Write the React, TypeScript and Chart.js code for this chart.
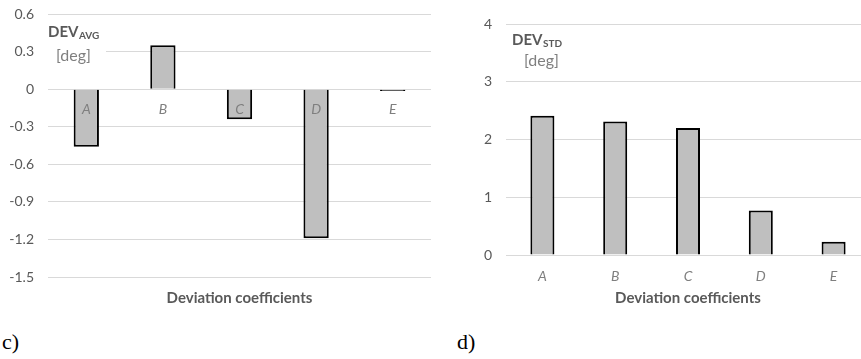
import { useEffect, useRef } from "react";
import { Chart, registerables } from "chart.js";

Chart.register(...registerables);

const categories = ["A", "B", "C", "D", "E"];
const devAvg = [-0.46, 0.35, -0.24, -1.19, -0.015];
const devStd = [2.41, 2.31, 2.2, 0.77, 0.23];
const avgTicks = [-1.5, -1.2, -0.9, -0.6, -0.3, 0, 0.3, 0.6];
const stdTicks = [0, 1, 2, 3, 4];
const axisTitle = "Deviation coefficients";
const panelLabels = ["c)", "d)"];
const titleMain = "DEV";
const titleSubs = ["AVG", "STD"];
const titleUnit = "[deg]";

const FONT = "Lato, 'Open Sans', sans-serif";
const TEXT = "#595959";
const LIGHT = "#7f7f7f";
const GRID = "#d9d9d9";
const FILL = "#bfbfbf";

function makeTitlePlugin(sub: string, dx: number, mainY: number, unitDx: number, unitY: number, mask: number[] | null) {
  return {
    id: "devTitle",
    afterDraw(chart: any) {
      const { ctx, chartArea } = chart;
      const x0 = chartArea.left + dx;
      ctx.save();
      if (mask) {
        ctx.fillStyle = "#fff";
        ctx.fillRect(chartArea.left, mask[0], mask[1], mask[2]);
      }
      ctx.textBaseline = "alphabetic";
      ctx.textAlign = "left";
      ctx.fillStyle = TEXT;
      ctx.font = `bold 15px ${FONT}`;
      ctx.fillText(titleMain, x0, mainY);
      const w = ctx.measureText(titleMain).width;
      ctx.font = `bold 10px ${FONT}`;
      ctx.fillText(sub, x0 + w + 0.5, mainY + 2);
      ctx.fillStyle = LIGHT;
      ctx.font = `16px ${FONT}`;
      ctx.fillText(titleUnit, x0 + unitDx, unitY);
      ctx.restore();
    },
  };
}

function fmt(v: number) {
  return v === 0 ? "0" : v.toFixed(Number.isInteger(v) ? 0 : 1);
}

function buildConfig(values: number[], ticks: number[], isAvg: boolean): any {
  const yMin = ticks[0];
  const yMax = ticks[ticks.length - 1];
  const scales: any = {
    x: {
      position: "bottom",
      offset: true,
      ticks: isAvg
        ? { display: false }
        : { display: true, color: LIGHT, padding: 13, font: { family: FONT, size: 14, style: "italic" } },
      grid: { display: false, drawTicks: false },
      border: { display: false },
      title: {
        display: true,
        text: axisTitle,
        color: TEXT,
        font: { family: FONT, size: 15, weight: "bold" },
        padding: { top: 0, bottom: 4 },
      },
      afterFit: (s: any) => {
        s.height = isAvg ? 34 : 56;
      },
    },
    y: {
      min: yMin,
      max: yMax,
      afterBuildTicks: (s: any) => {
        s.ticks = ticks.map((v) => ({ value: v }));
      },
      ticks: {
        color: TEXT,
        padding: 0,
        font: { family: FONT, size: 14 },
        callback: (v: any) => fmt(Number(v)),
      },
      grid: { color: GRID, lineWidth: 1, drawTicks: true, tickLength: 14, tickColor: "rgba(0,0,0,0)" },
      border: { display: false },
      afterFit: (s: any) => {
        s.width = isAvg ? 48 : 66;
      },
    },
  };
  if (isAvg) {
    scales.x2 = {
      type: "category",
      labels: categories,
      position: { y: 0 },
      offset: true,
      ticks: { color: LIGHT, padding: 12, z: 1, font: { family: FONT, size: 14, style: "italic" } },
      grid: { display: false, drawTicks: false },
      border: { display: false },
    };
  }
  return {
    type: "bar",
    data: {
      labels: categories,
      datasets: [
        {
          data: values,
          xAxisID: "x",
          yAxisID: "y",
          backgroundColor: FILL,
          borderColor: "#000",
          borderWidth: 2,
          barPercentage: 0.33,
          categoryPercentage: 1,
        },
      ],
    },
    options: {
      animation: false,
      responsive: false,
      maintainAspectRatio: false,
      layout: { padding: { top: isAvg ? 14 : 24, right: isAvg ? 9 : 10, left: 0, bottom: 0 } },
      plugins: { legend: { display: false }, tooltip: { enabled: false }, title: { display: false } },
      scales,
    },
    plugins: [
      isAvg
        ? makeTitlePlugin(titleSubs[0], 0, 37, 8, 61, [20, 58, 46])
        : makeTitlePlugin(titleSubs[1], 6, 45, 12, 66, null),
    ],
  };
}

function BarPanel(props: { values: number[]; ticks: number[]; isAvg: boolean; left: number }) {
  const ref = useRef<HTMLCanvasElement | null>(null);
  useEffect(() => {
    if (!ref.current) return;
    const chart = new Chart(ref.current, buildConfig(props.values, props.ticks, props.isAvg));
    return () => chart.destroy();
  }, []);
  return (
    <canvas
      ref={ref}
      width={440}
      height={311}
      style={{ position: "absolute", left: props.left, top: 0, width: 440, height: 311 }}
    />
  );
}

export default function App() {
  return (
    <div
      style={{
        position: "fixed",
        left: 0,
        top: 0,
        width: 861,
        height: 359,
        overflow: "hidden",
        background: "#fff",
      }}
    >
      <BarPanel values={devAvg} ticks={avgTicks} isAvg={true} left={0} />
      <BarPanel values={devStd} ticks={stdTicks} isAvg={false} left={440} />
      <div
        style={{
          position: "absolute",
          left: 2,
          top: 330,
          fontFamily: "'Liberation Serif', serif",
          fontSize: 22,
          lineHeight: "24px",
          color: "#000",
        }}
      >
        {panelLabels[0]}
      </div>
      <div
        style={{
          position: "absolute",
          left: 457,
          top: 330,
          fontFamily: "'Liberation Serif', serif",
          fontSize: 22,
          lineHeight: "24px",
          color: "#000",
        }}
      >
        {panelLabels[1]}
      </div>
    </div>
  );
}
